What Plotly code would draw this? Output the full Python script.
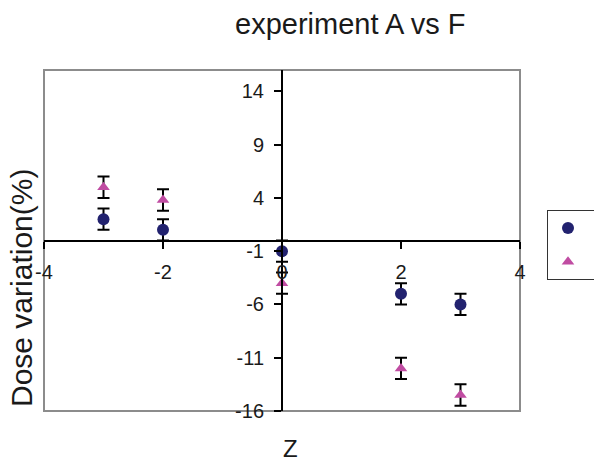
import plotly.graph_objects as go

# Dose variation data for the two series
z_values = [-3, -2, 0, 2, 3]
series_a = [2.0, 1.0, -1.0, -5.0, -6.0]
series_a_err = [1.0, 1.0, 1.0, 1.0, 1.0]
series_f = [5.0, 3.8, -4.0, -12.0, -14.5]
series_f_err = [1.0, 1.0, 1.0, 1.0, 1.0]

x_ticks = [-4, -2, 0, 2, 4]
y_ticks = [-16, -11, -6, -1, 4, 9, 14]

FONT = "Liberation Sans, Arial, sans-serif"
NAVY = "#22226f"
MAGENTA = "#c04ca2"

fig = go.Figure()
fig.add_trace(go.Scatter(
    x=z_values, y=series_a, mode="markers", name=" ", legendgroup="a",
    marker=dict(symbol="circle", size=12, color=NAVY),
    error_y=dict(type="data", array=series_a_err, color="black", thickness=2, width=6),
))
fig.add_trace(go.Scatter(
    x=z_values, y=series_f, mode="markers", name=" ", legendgroup="f",
    marker=dict(symbol="triangle-up", size=11, color=MAGENTA),
    error_y=dict(type="data", array=series_f_err, color="black", thickness=2, width=6),
))

L, R, T, B = 44, 74, 70, 50
W, H = 594, 461
pw, ph = W - L - R, H - T - B

fig.update_layout(
    width=W, height=H,
    margin=dict(l=L, r=R, t=T, b=B, autoexpand=False),
    paper_bgcolor="white", plot_bgcolor="white",
    font=dict(family=FONT, color="#1a1a1a", size=20),
    showlegend=True,
    legend=dict(
        x=(547 - L) / pw, y=(H - B - 210) / ph, xanchor="left", yanchor="top",
        bgcolor="white", bordercolor="#333333", borderwidth=1,
        font=dict(size=16), itemwidth=30, tracegroupgap=10,
    ),
    xaxis=dict(
        range=[-4, 4], tickvals=x_ticks, ticktext=[str(v) for v in x_ticks],
        showgrid=False, zeroline=False, showline=True, linecolor="black", linewidth=2,
        ticks="outside", ticklen=7, tickwidth=2, tickcolor="black",
        anchor="free", position=0.5, ticklabelstandoff=6,
    ),
    yaxis=dict(
        range=[-16, 16], tickvals=y_ticks, ticktext=[str(v) for v in y_ticks],
        showgrid=False, zeroline=False, showline=True, linecolor="black", linewidth=2,
        ticks="outside", ticklen=7, tickwidth=2, tickcolor="black",
        anchor="free", position=0.5, ticklabelstandoff=6,
    ),
    shapes=[dict(type="rect", xref="paper", yref="paper", x0=0, x1=1, y0=0, y1=1,
                 line=dict(color="#8c8c8c", width=2), layer="below")],
    annotations=[
        dict(text="experiment A vs F", xref="paper", yref="paper",
             x=(350 - L) / pw, y=(H - B - 24) / ph, xanchor="center", yanchor="middle",
             showarrow=False, font=dict(size=29)),
        dict(text="Dose variation(%)", xref="paper", yref="paper", textangle=-90,
             x=(21 - L) / pw, y=(H - B - 288) / ph, xanchor="center", yanchor="middle",
             showarrow=False, font=dict(size=30)),
        dict(text="Z", xref="paper", yref="paper",
             x=(290 - L) / pw, y=(H - B - 449) / ph, xanchor="center", yanchor="middle",
             showarrow=False, font=dict(size=24)),
    ],
)

fig.write_html("out.html")
